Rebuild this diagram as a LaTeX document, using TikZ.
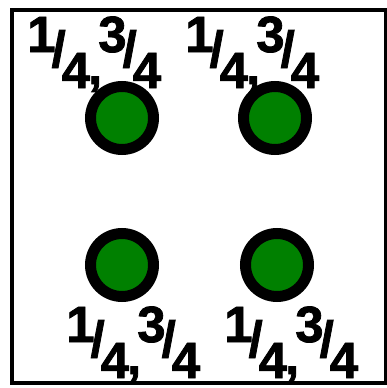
\documentclass[tikz,border=0pt]{standalone}
\usepackage{fontspec}
\setmainfont{Liberation Sans}
\newfontfamily\lblfont{Liberation Sans Bold}[FakeBold=1.5]
\newcommand\myfrac[2]{\raisebox{15pt}{#1}\kern-4pt/\kern-4pt\raisebox{-21pt}{#2}}
\newcommand\mylabel{\myfrac{1}{4}\kern-2pt\raisebox{-17pt}{,}\kern-4pt\myfrac{3}{4}}
\definecolor{dotgreen}{RGB}{0,128,0}
\tikzset{
  frame/.style={draw=black, line width=4pt},
  dot/.style={circle, draw=black, fill=dotgreen, line width=11pt, minimum size=63pt, inner sep=0pt},
  lbl/.style={anchor=base west, inner sep=0pt, font=\lblfont\fontsize{51}{51}\selectfont}
}
\begin{document}
\begin{tikzpicture}[x=1pt,y=-1pt]
\useasboundingbox (0,0) rectangle (386,388);
\fill[white] (0,0) rectangle (386,388);
\draw[frame] (12,10) rectangle (386,383);
\node[lbl] (l1) at (27,67) {\mylabel};
\node[lbl] (l2) at (185,67) {\mylabel};
\node[lbl] (l3) at (66,357) {\mylabel};
\node[lbl] (l4) at (224,357) {\mylabel};
\node[dot] (d1) at (122,118) {};
\node[dot] (d2) at (275,118) {};
\node[dot] (d3) at (122,265) {};
\node[dot] (d4) at (277,265) {};
\end{tikzpicture}
\end{document}
